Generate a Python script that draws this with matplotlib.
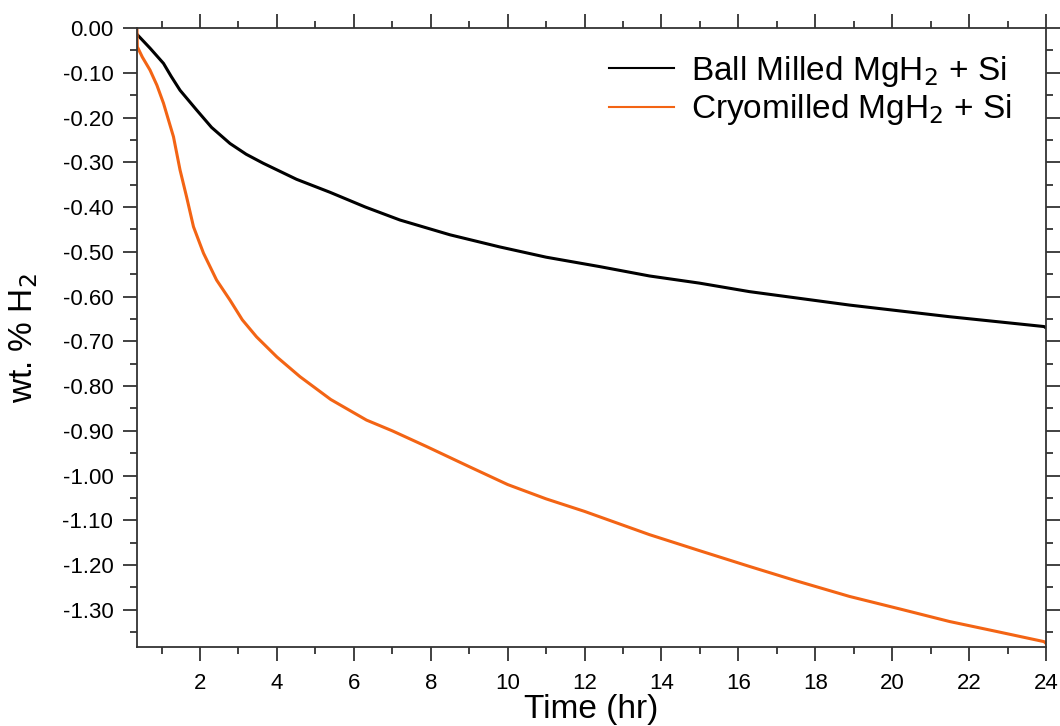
import numpy as np
import matplotlib
matplotlib.use("Agg")
import matplotlib.pyplot as plt
from matplotlib.ticker import MultipleLocator, FormatStrFormatter
from matplotlib.lines import Line2D

plt.rcParams["font.family"] = ["Liberation Sans", "DejaVu Sans"]
plt.rcParams["axes.unicode_minus"] = False

# valores (tiempo en h, wt.% H2)
t_ball = [0.36, 0.70, 1.05, 1.25, 1.48, 1.91, 2.30, 2.78, 3.20, 3.64, 4.51, 5.38,
          6.30, 7.20, 8.50, 9.79, 11.0, 12.39, 13.69, 14.99, 16.29, 18.89, 21.49,
          23.95, 24.0]
h_ball = [-0.014, -0.045, -0.079, -0.108, -0.139, -0.183, -0.222, -0.258, -0.282,
          -0.302, -0.338, -0.367, -0.400, -0.429, -0.462, -0.489, -0.512, -0.533,
          -0.554, -0.570, -0.589, -0.619, -0.645, -0.667, -0.670]

t_cryo = [0.36, 0.37, 0.50, 0.70, 0.88, 1.05, 1.31, 1.48, 1.65, 1.83, 2.09, 2.43,
          2.78, 3.10, 3.47, 4.00, 4.60, 5.40, 6.33, 7.00, 7.89, 9.00, 10.0, 11.0,
          12.0, 13.69, 15.0, 16.29, 17.5, 18.89, 20.2, 21.49, 22.7, 23.95, 24.0]
h_cryo = [0.0, -0.042, -0.065, -0.094, -0.128, -0.168, -0.243, -0.317, -0.377,
          -0.444, -0.503, -0.563, -0.608, -0.652, -0.690, -0.735, -0.779, -0.830,
          -0.876, -0.900, -0.935, -0.980, -1.020, -1.052, -1.080, -1.132, -1.168,
          -1.203, -1.235, -1.270, -1.298, -1.326, -1.348, -1.371, -1.375]

labels = ["Ball Milled MgH$_2$ + Si", "Cryomilled MgH$_2$ + Si"]
colores = ["#000000", "#F36414"]

fig = plt.figure(figsize=(10.6, 7.26), dpi=100)
ax = fig.add_axes([0.1292, 0.1088, 0.8576, 0.8526])

ax.plot(t_ball, h_ball, color=colores[0], lw=2.2)
ax.plot(t_cryo, h_cryo, color=colores[1], lw=2.2)

ax.set_xlim(0.36, 24)
ax.set_ylim(-1.383, 0)

ax.xaxis.set_major_locator(MultipleLocator(2))
ax.xaxis.set_minor_locator(MultipleLocator(1))
ax.yaxis.set_major_locator(MultipleLocator(0.1))
ax.yaxis.set_minor_locator(MultipleLocator(0.05))
ax.yaxis.set_major_formatter(FormatStrFormatter("%.2f"))

for s in ax.spines.values():
    s.set_linewidth(1.3)
    s.set_color("#333333")

ax.tick_params(which="both", direction="out", top=True, right=True,
               labeltop=False, labelright=False, width=1.3, color="#333333")
ax.tick_params(which="major", length=10, labelsize=16)
ax.tick_params(axis="x", which="major", pad=9)
ax.tick_params(axis="y", which="major", pad=7)
ax.tick_params(which="minor", length=5)

ax.set_xlabel("Time (hr)", fontsize=24, labelpad=0)
ax.set_ylabel("wt. % H$_2$", fontsize=24, labelpad=16)

handles = [Line2D([], [], color=c, lw=1.5) for c in colores]
ax.legend(handles, labels, loc="upper right", frameon=False, fontsize=24,
          handlelength=1.95, handletextpad=0.5, labelspacing=0.1,
          borderpad=0, borderaxespad=0, bbox_to_anchor=(0.962, 0.958))

fig.savefig("out.png", dpi=100)
